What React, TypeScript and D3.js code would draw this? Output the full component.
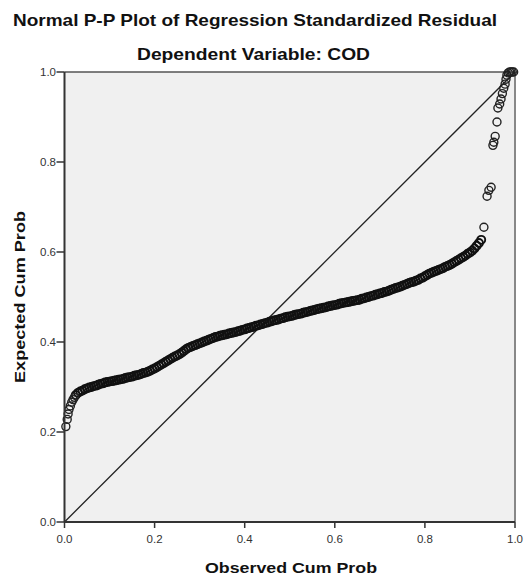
import React from "react";
import * as d3 from "d3";

const titleText = "Normal P-P Plot of Regression Standardized Residual";
const subtitleText = "Dependent Variable: COD";
const xLabel = "Observed Cum Prob";
const yLabel = "Expected Cum Prob";
const tickValues = [0, 0.2, 0.4, 0.6, 0.8, 1.0];

// [observed cum prob, expected cum prob]
const lowerTail: [number, number][] = [
  [0.003, 0.212], [0.006, 0.228], [0.008, 0.24], [0.01, 0.25], [0.013, 0.258],
  [0.016, 0.266], [0.019, 0.272], [0.022, 0.277],
];

const bodyObs = [
  0.025, 0.03, 0.035, 0.04, 0.045, 0.05, 0.055, 0.06, 0.065, 0.07,
  0.075, 0.08, 0.085, 0.09, 0.095, 0.1, 0.105, 0.11, 0.115, 0.12,
  0.125, 0.13, 0.135, 0.14, 0.145, 0.15, 0.155, 0.16, 0.165, 0.17,
  0.175, 0.18, 0.185, 0.19, 0.195, 0.2, 0.205, 0.21, 0.215, 0.22,
  0.225, 0.23, 0.235, 0.24, 0.245, 0.25, 0.255, 0.26, 0.265, 0.27,
  0.275, 0.28, 0.285, 0.29, 0.295, 0.3, 0.305, 0.31, 0.315, 0.32,
  0.325, 0.33, 0.335, 0.34, 0.345, 0.35, 0.355, 0.36, 0.365, 0.37,
  0.375, 0.38, 0.385, 0.39, 0.395, 0.4, 0.405, 0.41, 0.415, 0.42,
  0.425, 0.43, 0.435, 0.44, 0.445, 0.45, 0.455, 0.46, 0.465, 0.47,
  0.475, 0.48, 0.485, 0.49, 0.495, 0.5, 0.505, 0.51, 0.515, 0.52,
  0.525, 0.53, 0.535, 0.54, 0.545, 0.55, 0.555, 0.56, 0.565, 0.57,
  0.575, 0.58, 0.585, 0.59, 0.595, 0.6, 0.605, 0.61, 0.615, 0.62,
  0.625, 0.63, 0.635, 0.64, 0.645, 0.65, 0.655, 0.66, 0.665, 0.67,
  0.675, 0.68, 0.685, 0.69, 0.695, 0.7, 0.705, 0.71, 0.715, 0.72,
  0.725, 0.73, 0.735, 0.74, 0.745, 0.75, 0.755, 0.76, 0.765, 0.77,
  0.775, 0.78, 0.785, 0.79, 0.795, 0.8, 0.805, 0.81, 0.815, 0.82,
  0.825, 0.83, 0.835, 0.84, 0.845, 0.85, 0.855, 0.86, 0.865, 0.87,
  0.875, 0.88, 0.885, 0.89, 0.895, 0.9, 0.905, 0.91, 0.915, 0.92,
  0.925,
];

const bodyExp = [
  0.282, 0.287, 0.29, 0.292, 0.295, 0.297, 0.299, 0.3, 0.302, 0.303,
  0.305, 0.307, 0.308, 0.31, 0.311, 0.312, 0.313, 0.314, 0.315, 0.316,
  0.317, 0.318, 0.32, 0.321, 0.322, 0.323, 0.325, 0.326, 0.327, 0.329,
  0.331, 0.332, 0.334, 0.336, 0.339, 0.341, 0.344, 0.347, 0.35, 0.353,
  0.356, 0.359, 0.362, 0.365, 0.368, 0.37, 0.373, 0.376, 0.38, 0.384,
  0.387, 0.389, 0.391, 0.393, 0.395, 0.397, 0.399, 0.401, 0.403, 0.405,
  0.407, 0.409, 0.411, 0.412, 0.414, 0.415, 0.416, 0.417, 0.419, 0.42,
  0.421, 0.422, 0.424, 0.425, 0.427, 0.428, 0.43, 0.431, 0.433, 0.434,
  0.436, 0.437, 0.439, 0.44, 0.442, 0.443, 0.445, 0.446, 0.448, 0.449,
  0.45, 0.452, 0.453, 0.455, 0.456, 0.457, 0.458, 0.46, 0.461, 0.462,
  0.463, 0.465, 0.466, 0.467, 0.469, 0.47, 0.471, 0.473, 0.474, 0.475,
  0.476, 0.477, 0.479, 0.48, 0.481, 0.482, 0.483, 0.485, 0.486, 0.487,
  0.488, 0.489, 0.49, 0.491, 0.492, 0.493, 0.494, 0.496, 0.497, 0.499,
  0.5, 0.502, 0.503, 0.505, 0.506, 0.508, 0.509, 0.511, 0.512, 0.514,
  0.516, 0.518, 0.52, 0.521, 0.523, 0.525, 0.527, 0.529, 0.531, 0.533,
  0.534, 0.536, 0.538, 0.541, 0.543, 0.546, 0.549, 0.552, 0.554, 0.556,
  0.558, 0.56, 0.562, 0.564, 0.567, 0.569, 0.571, 0.574, 0.577, 0.58,
  0.583, 0.586, 0.589, 0.592, 0.596, 0.599, 0.603, 0.608, 0.614, 0.62,
  0.627,
];

const upperTail: [number, number][] = [
  [0.931, 0.655], [0.938, 0.724], [0.942, 0.737], [0.947, 0.744],
  [0.951, 0.837], [0.953, 0.844], [0.956, 0.857], [0.96, 0.889],
  [0.962, 0.92], [0.966, 0.929], [0.969, 0.94], [0.972, 0.952],
  [0.975, 0.964], [0.978, 0.973], [0.98, 0.984], [0.982, 0.993],
  [0.985, 0.998], [0.988, 1.0], [0.991, 1.0], [0.994, 1.0], [0.997, 1.0],
];

const W = 528;
const H = 578;
const left = 64.5;
const right = 515;
const top = 72;
const bottom = 522;

export default function App() {
  const x = d3.scaleLinear().domain([0, 1]).range([left, right]);
  const y = d3.scaleLinear().domain([0, 1]).range([bottom, top]);
  const body: [number, number][] = bodyObs.map((o, i) => [o, bodyExp[i]] as [number, number]);
  const tails: [number, number][] = [...lowerTail, ...upperTail];
  const font = "'Liberation Sans', Arial, sans-serif";
  return (
    <svg
      width={W}
      height={H}
      style={{ position: "absolute", left: 0, top: 0, background: "#fff" }}
    >
      <text x={255} y={26} textAnchor="middle" fontFamily={font} fontWeight="bold" fontSize={16.5}
        fill="#111" textLength={484} lengthAdjust="spacingAndGlyphs">
        {titleText}
      </text>
      <text x={253.5} y={60} textAnchor="middle" fontFamily={font} fontWeight="bold" fontSize={16.5}
        fill="#111" textLength={233} lengthAdjust="spacingAndGlyphs">
        {subtitleText}
      </text>
      <rect x={left} y={top} width={right - left} height={bottom - top} fill="#f0f0f0" />
      {/* top & right borders */}
      <line x1={left} y1={top} x2={right} y2={top} stroke="#555" strokeWidth={1.5} />
      <line x1={right} y1={top} x2={right} y2={bottom} stroke="#888" strokeWidth={2} />
      {/* diagonal */}
      <line x1={x(0)} y1={y(0)} x2={x(1)} y2={y(1)} stroke="#222" strokeWidth={1.3} />
      {body.map((p, i) => (
        <circle key={"b" + i} cx={x(p[0])} cy={y(p[1])} r={4} fill="none" stroke="#111" strokeWidth={1.9} />
      ))}
      {tails.map((p, i) => (
        <circle key={"t" + i} cx={x(p[0])} cy={y(p[1])} r={4} fill="none" stroke="#222" strokeWidth={1.4} />
      ))}
      {/* axes */}
      <line x1={left} y1={top} x2={left} y2={bottom} stroke="#333" strokeWidth={2} />
      <line x1={left} y1={bottom} x2={right} y2={bottom} stroke="#333" strokeWidth={2} />
      {tickValues.map((t) => (
        <g key={"y" + t}>
          <line x1={left - 8} y1={y(t)} x2={left} y2={y(t)} stroke="#333" strokeWidth={1.5} />
          <text x={left - 8.5} y={y(t) + 4} textAnchor="end" fontFamily={font} fontSize={11.5} fill="#333">
            {d3.format(".1f")(t)}
          </text>
        </g>
      ))}
      {tickValues.map((t) => (
        <g key={"x" + t}>
          <line x1={x(t)} y1={bottom} x2={x(t)} y2={bottom + 6} stroke="#333" strokeWidth={1.5} />
          <text x={x(t)} y={bottom + 20.5} textAnchor="middle" fontFamily={font} fontSize={11.5} fill="#333">
            {d3.format(".1f")(t)}
          </text>
        </g>
      ))}
      <text x={291} y={573} textAnchor="middle" fontFamily={font} fontWeight="bold" fontSize={15.5}
        fill="#111" textLength={172} lengthAdjust="spacingAndGlyphs">
        {xLabel}
      </text>
      <text
        transform={`translate(25, ${(top + bottom) / 2}) rotate(-90)`}
        textAnchor="middle"
        fontFamily={font}
        fontWeight="bold"
        fontSize={15.5}
        fill="#111"
        textLength={172}
        lengthAdjust="spacingAndGlyphs"
      >
        {yLabel}
      </text>
    </svg>
  );
}
